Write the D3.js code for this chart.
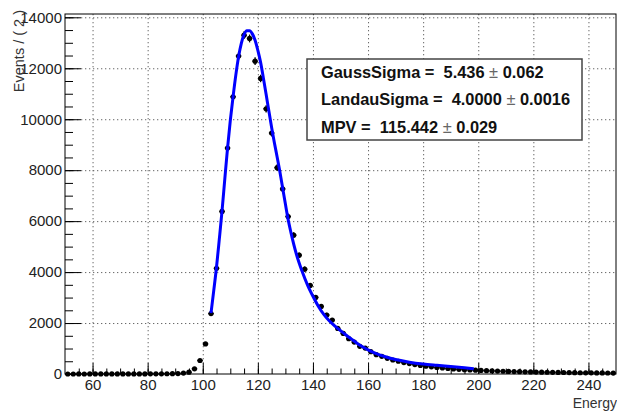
<!DOCTYPE html>
<html>
<head>
<meta charset="utf-8">
<script src="https://cdn.jsdelivr.net/npm/d3@7"></script>
<style>
  body { margin: 0; background: #fff; }
  svg { display: block; font-family: "Liberation Sans", Arial, sans-serif; }
  .legend text { white-space: pre; }
</style>
</head>
<body>
<div class="canva"></div>
<script>
// histogram bins (width 2), centres 51 .. 249
const binCenters = d3.range(51, 250, 2);

// counts per bin
const counts = [
    0, 0, 1, 0, 1, 1, 1, 2, 1, 2,
    2, 3, 3, 4, 4, 5, 6, 8, 9, 12,
    18, 38, 70, 205, 530, 1180, 2370, 4150, 6380, 8870,
    10880, 12480, 13300, 13170, 12280, 11600, 10410, 9460, 8100, 7265,
    6180, 5450, 4665, 4116, 3477, 3006, 2653, 2313, 2117, 1790,
    1594, 1385, 1254, 1085, 1019, 875, 758, 692, 614, 549,
    500, 450, 410, 370, 335, 305, 280, 255, 235, 215,
    200, 185, 170, 160, 150, 140, 130, 122, 115, 108,
    102, 96, 90, 85, 80, 76, 72, 68, 64, 61,
    58, 55, 52, 49, 47, 45, 43, 41, 39, 37
];

// fitted Landau (x) Gauss curve
const fitX = [103, 104, 105, 106, 107, 108, 109, 110, 111, 112, 113, 114, 115, 116, 117,
    118, 119, 120, 121, 122, 123, 124, 125, 126, 127, 128, 129, 130, 131, 132, 134, 136,
    138, 140, 142, 144, 146, 148, 150, 152, 154, 156, 158, 160, 163, 166, 170, 175, 180,
    185, 190, 195, 198.4];
const fitY = [2390, 3280, 4200, 5280, 6400, 7650, 8870, 9950, 10880, 11730, 12450, 12980, 13320, 13470, 13470,
    13350, 13100, 12700, 12230, 11620, 10980, 10320, 9680, 9080, 8520, 7940, 7300, 6670, 6060, 5560, 4700, 4050,
    3500, 3050, 2650, 2330, 2080, 1880, 1700, 1530, 1370, 1210, 1070, 945, 800, 685, 570, 465, 392,
    340, 292, 243, 210];

const xTicks = [60, 80, 100, 120, 140, 160, 180, 200, 220, 240];
const yTicks = [0, 2000, 4000, 6000, 8000, 10000, 12000, 14000];

const fitLabels = ['GaussSigma', 'LandauSigma', 'MPV'];
const fitValues = ['5.436', '4.0000', '115.442'];
const fitErrors = ['0.062', '0.0016', '0.029'];

const width = 617, height = 411;
const margin = {top: 14, right: 1, bottom: 37, left: 65};

const svg = d3.select('.canva').append('svg')
    .attr('width', width)
    .attr('height', height);

svg.append('rect').attr('width', width).attr('height', height).attr('fill', '#fff');

const x = d3.scaleLinear().domain([50, 250]).range([margin.left, width - margin.right]);
const y = d3.scaleLinear().domain([0, 14130]).range([height - margin.bottom, margin.top]);

// dotted grid
const grid = svg.append('g').attr('stroke', '#666').attr('stroke-width', 1)
    .attr('stroke-dasharray', '1.3,2.7');
grid.selectAll('.gx').data(xTicks).enter().append('line')
    .attr('x1', d => x(d) + 0.5).attr('x2', d => x(d) + 0.5)
    .attr('y1', y.range()[1]).attr('y2', y.range()[0]);
grid.selectAll('.gy').data(yTicks.slice(1)).enter().append('line')
    .attr('x1', x.range()[0]).attr('x2', x.range()[1])
    .attr('y1', d => y(d) + 0.5).attr('y2', d => y(d) + 0.5);

// axes, ticks pointing into the frame
svg.append('g')
    .attr('transform', `translate(0, ${y(0)})`)
    .call(d3.axisBottom(x).tickValues(xTicks).tickSize(-11).tickSizeOuter(0).tickPadding(5).tickFormat(d3.format('d')));
svg.append('g')
    .attr('transform', `translate(0, ${y(0)})`)
    .call(d3.axisBottom(x).tickValues(d3.range(55, 250, 5)).tickSize(-5.5).tickSizeOuter(0).tickFormat(''));

svg.append('g')
    .attr('transform', `translate(${x(50)}, 0)`)
    .call(d3.axisLeft(y).tickValues(yTicks).tickSize(-16).tickSizeOuter(0).tickPadding(3).tickFormat(d3.format('d')));
svg.append('g')
    .attr('transform', `translate(${x(50)}, 0)`)
    .call(d3.axisLeft(y).tickValues(d3.range(500, 14100, 500)).tickSize(-8).tickSizeOuter(0).tickFormat(''));

svg.selectAll('.domain').remove();
svg.selectAll('.tick line').attr('stroke', '#000');
svg.selectAll('.tick text').attr('font-size', 15).attr('fill', '#222')
    .attr('font-family', '"Liberation Sans", Arial, sans-serif');

// frame
svg.append('rect')
    .attr('x', x.range()[0]).attr('y', y.range()[1])
    .attr('width', x.range()[1] - x.range()[0])
    .attr('height', y.range()[0] - y.range()[1])
    .attr('fill', 'none').attr('stroke', '#000').attr('stroke-width', 1);

// axis titles
svg.append('text')
    .attr('transform', 'translate(24, 10) rotate(-90)')
    .attr('text-anchor', 'end')
    .attr('font-size', 14.5).attr('fill', '#333')
    .text('Events / ( 2 )');
svg.append('text')
    .attr('x', 617).attr('y', 408)
    .attr('text-anchor', 'end')
    .attr('font-size', 14).attr('fill', '#333')
    .text('Energy');

// data points with error bars
const pts = binCenters.map((c, i) => ({e: c, n: counts[i]}));
const marks = svg.append('g');
marks.selectAll('.eh').data(pts).enter().append('line')
    .attr('x1', d => x(d.e - 1)).attr('x2', d => x(d.e + 1))
    .attr('y1', d => y(d.n)).attr('y2', d => y(d.n))
    .attr('stroke', '#000').attr('stroke-width', 1.3);
marks.selectAll('.ev').data(pts).enter().append('line')
    .attr('x1', d => x(d.e)).attr('x2', d => x(d.e))
    .attr('y1', d => y(d.n + Math.sqrt(d.n)) - 1).attr('y2', d => y(d.n - Math.sqrt(d.n)) + 1)
    .attr('stroke', '#000').attr('stroke-width', 1.3);
marks.selectAll('circle').data(pts).enter().append('circle')
    .attr('cx', d => x(d.e)).attr('cy', d => y(d.n))
    .attr('r', 2.6).attr('fill', '#000');

// fit curve
const fit = fitX.map((v, i) => [v, fitY[i]]);
svg.append('path')
    .datum(fit)
    .attr('d', d3.line().x(d => x(d[0])).y(d => y(d[1])).curve(d3.curveMonotoneX))
    .attr('fill', 'none')
    .attr('stroke', '#0000ff')
    .attr('stroke-width', 3);

// parameter box
const legend = svg.append('g').attr('class', 'legend');
legend.append('rect')
    .attr('x', 307).attr('y', 59).attr('width', 275).attr('height', 81)
    .attr('fill', '#fff').attr('stroke', '#444').attr('stroke-width', 1.5);

const rows = legend.selectAll('text').data(fitLabels).enter().append('text')
    .attr('x', 321)
    .attr('y', (d, i) => 77.5 + i * 27.5)
    .attr('font-size', 16.4).attr('font-weight', 'bold').attr('fill', '#111');
rows.append('tspan').text((d, i) => `${d} =  ${fitValues[i]} `);
rows.append('tspan').attr('font-weight', 'normal').attr('fill', '#666').text('\u00b1');
rows.append('tspan').text((d, i) => ` ${fitErrors[i]}`);
</script>
</body>
</html>
